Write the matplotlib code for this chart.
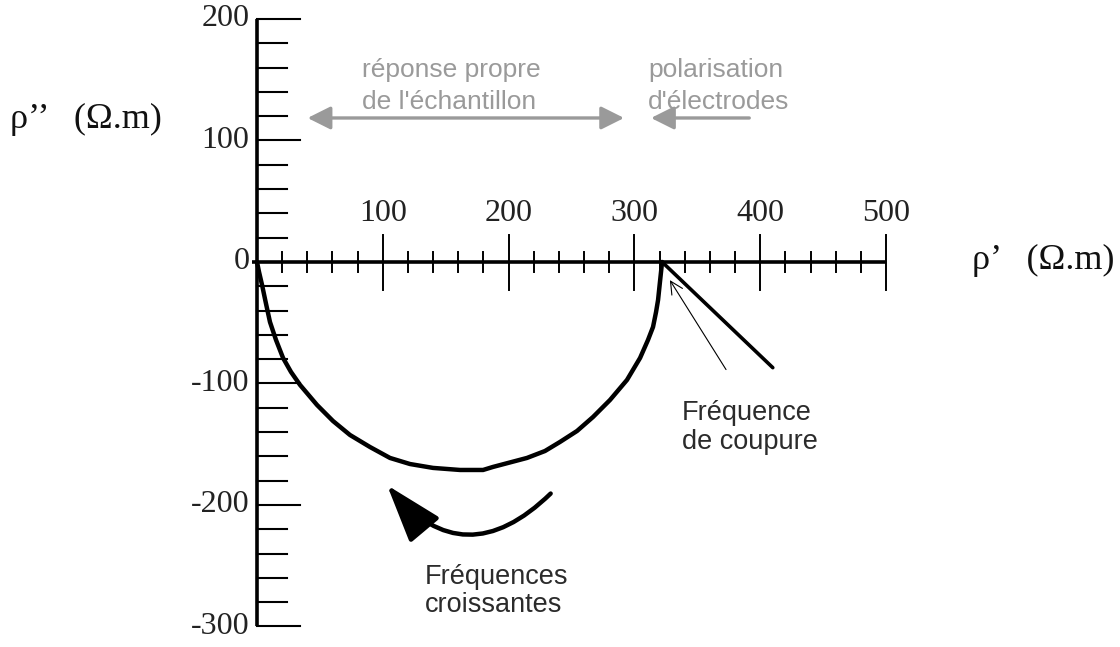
import matplotlib
matplotlib.use("Agg")
import matplotlib.pyplot as plt
from matplotlib.patches import FancyArrowPatch

# diagramme de Nyquist : rho' en abscisse, rho'' en ordonnee (Ohm.m)
arc_x = [0, 1.6, 4, 7.2, 10.3, 15.1, 20.7, 27, 34.2, 47.7, 60.4, 73.9, 89.8, 105.7, 121.6, 139.9,
         161.4, 179.7, 187.6, 214.6, 228.9, 240.9, 254.4, 267.1, 280.6, 294.1, 304.5, 310.8,
         314.8, 317.2, 318.8, 320.3, 322]
arc_y = [0, -8.2, -18.9, -34.6, -49.4, -64.2, -79, -90.5, -101.2, -117.7, -130.9, -142.4, -152.3,
         -161.3, -166.3, -169.5, -171.2, -171.2, -168.7, -161.3, -155.6, -148.1, -139.1, -127.6,
         -113.6, -97.1, -79, -64.2, -53.5, -41.2, -31.3, -16.5, 0]

# polarisation d'electrodes (droite apres la frequence de coupure)
elec_x = [322, 410]
elec_y = [0, -87]

x_major = [100, 200, 300, 400, 500]
x_minor = [v for v in range(20, 500, 20) if v % 100 != 0]
y_labels = [200, 100, 0, -100, -200, -300]
y_major = [100, -100, -200]
y_minor = [v for v in range(-280, 200, 20) if v % 100 != 0]

serif = "Liberation Serif"
sans = "Liberation Sans"
grey = "#9a9a9a"
dark = "#2b2b2b"

fig = plt.figure(figsize=(11.2, 6.47), dpi=100)
ax = fig.add_axes([0, 0, 1, 1])
ax.set_xlim(-204.3, 686.0)
ax.set_ylim(-316.9, 215.6)
ax.axis("off")

# axes dessines a la main
ax.plot([0, 0], [200, -300], color="k", lw=2.6, solid_capstyle="butt")
ax.plot([0, 34], [200, 200], color="k", lw=1.5)
ax.plot([0, 34], [-300, -300], color="k", lw=1.5)
ax.plot([-4, 500], [0, 0], color="k", lw=2.6, solid_capstyle="butt")

for v in y_minor:
    ax.plot([0, 24], [v, v], color="k", lw=1.5)
for v in y_major:
    ax.plot([0, 34], [v, v], color="k", lw=1.5)
for v in x_minor:
    ax.plot([v, v], [-8, 8], color="k", lw=1.4)
for v in x_major:
    ax.plot([v, v], [-23, 22], color="k", lw=1.4)

for v in x_major:
    ax.text(v, 40, str(v), family=serif, fontsize=23, ha="center", va="center", color="#222")
for v in y_labels:
    ax.text(-6, v, str(v), family=serif, fontsize=23, ha="right", va="center", color="#222")

ax.text(-196, 117, "ρ’’   (Ω.m)", family=serif, fontsize=26, ha="left", va="center", color="#111")
ax.text(568, 1.6, "ρ’   (Ω.m)", family=serif, fontsize=26, ha="left", va="center", color="#111")

# demi-cercle et droite de polarisation
ax.plot(arc_x, arc_y, color="k", lw=3.2, solid_joinstyle="round", solid_capstyle="round")
ax.plot(elec_x, elec_y, color="k", lw=2.6, solid_capstyle="round")

# fleche fine vers la frequence de coupure
ax.add_patch(FancyArrowPatch((374, -90.5), (327, -13), arrowstyle="->,head_length=0.5,head_width=0.25",
                             mutation_scale=18, lw=0.8, color="k"))
ax.text(338, -124, "Fréquence", family=sans, fontsize=19.5, ha="left", va="center", color=dark)
ax.text(338, -148, "de coupure", family=sans, fontsize=19.5, ha="left", va="center", color=dark)

# fleche courbe des frequences croissantes
ax.add_patch(FancyArrowPatch((235, -189), (102, -182), connectionstyle="arc3,rad=-0.55",
                             arrowstyle="-|>,head_length=0.6,head_width=0.2",
                             mutation_scale=60, lw=3.2, color="k"))
ax.text(133.5, -259, "Fréquences", family=sans, fontsize=19.5, ha="left", va="center", color=dark)
ax.text(133.5, -282, "croissantes", family=sans, fontsize=19.5, ha="left", va="center", color=dark)

# domaines en gris
ax.add_patch(FancyArrowPatch((38, 118.5), (294, 118.5), arrowstyle="<|-|>,head_length=0.7,head_width=0.35",
                             mutation_scale=20, lw=2.4, color=grey))
ax.add_patch(FancyArrowPatch((393.5, 118.5), (311, 118.5), arrowstyle="-|>,head_length=0.7,head_width=0.35",
                             mutation_scale=20, lw=2.4, color=grey))
ax.text(83.5, 158, "réponse propre", family=sans, fontsize=19, ha="left", va="center", color=grey)
ax.text(83.5, 132, "de l'échantillon", family=sans, fontsize=19, ha="left", va="center", color=grey)
ax.text(311, 158, "polarisation", family=sans, fontsize=19, ha="left", va="center", color=grey)
ax.text(311, 132, "d'électrodes", family=sans, fontsize=19, ha="left", va="center", color=grey)

plt.savefig("out.png", dpi=100)
